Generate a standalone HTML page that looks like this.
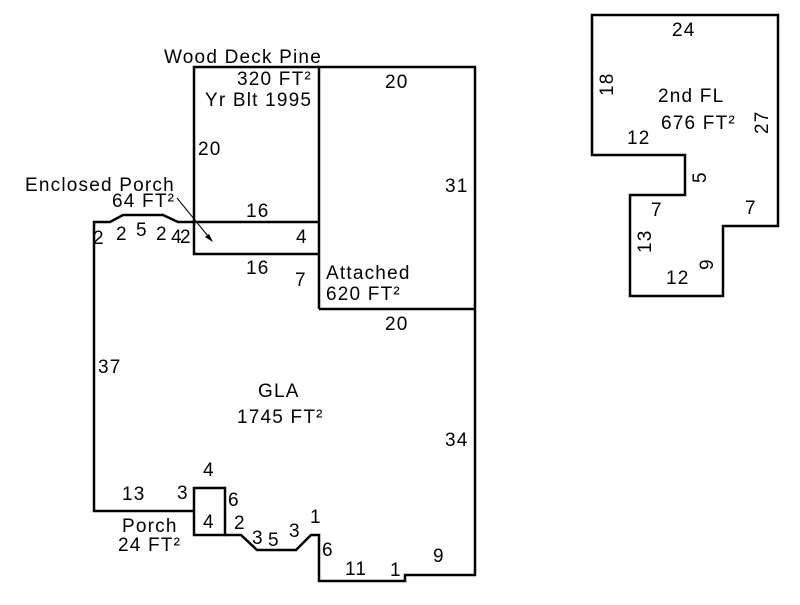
<!DOCTYPE html>
<html><head><meta charset="utf-8"><style>
html,body{margin:0;padding:0;background:#fff}
svg text{font-family:"Liberation Sans",Arial,sans-serif;font-size:19px;letter-spacing:1.2px;fill:#000}
</style></head><body>
<svg width="800" height="600" viewBox="0 0 800 600" xmlns="http://www.w3.org/2000/svg">
<g fill="none" stroke="#000" stroke-width="2.5">
<polyline points="194,222 194,67 475,67 475,575 405,575 405,581 319,581 319,535 311,535 296,550 257,550 241,535 225,535"/>
<rect x="194" y="488" width="31" height="47"/>
<polyline points="194,511 94,511 94,222 110,222 123,215 163,215 178,222 194,222"/>
<line x1="194" y1="222" x2="319" y2="222"/>
<polyline points="194,222 194,254 319,254"/>
<line x1="319" y1="67" x2="319" y2="309"/>
<line x1="319" y1="309" x2="475" y2="309"/>
<polygon points="592,15 778,15 778,226 723,226 723,296 630,296 630,195 685,195 685,155 592,155"/>
</g>
<line x1="177" y1="198" x2="212" y2="241" stroke="#000" stroke-width="1"/>
<polygon points="213,242 205,237 209,234" fill="#000"/>
<text x="164" y="63">Wood Deck Pine</text>
<text x="237" y="85">320 FT²</text>
<text x="205" y="106">Yr Blt 1995</text>
<text x="385" y="88">20</text>
<text x="198" y="155">20</text>
<text x="445" y="192">31</text>
<text x="25" y="191">Enclosed Porch</text>
<text x="112" y="207">64 FT²</text>
<text x="246" y="217">16</text>
<text x="296" y="243">4</text>
<text x="93" y="244">2</text>
<text x="116" y="240">2</text>
<text x="136" y="236">5</text>
<text x="156" y="240">2</text>
<text x="171" y="243">4</text>
<text x="180" y="243">2</text>
<text x="246" y="274">16</text>
<text x="295" y="286">7</text>
<text x="326" y="279">Attached</text>
<text x="326" y="300">620 FT²</text>
<text x="385" y="330">20</text>
<text x="98" y="373">37</text>
<text x="258" y="397">GLA</text>
<text x="237" y="423">1745 FT²</text>
<text x="445" y="446">34</text>
<text x="203" y="476">4</text>
<text x="122" y="500">13</text>
<text x="177" y="499">3</text>
<text x="228" y="506">6</text>
<text x="203" y="528">4</text>
<text x="122" y="532">Porch</text>
<text x="118" y="551">24 FT²</text>
<text x="234" y="529">2</text>
<text x="252" y="544">3</text>
<text x="268" y="546">5</text>
<text x="289" y="537">3</text>
<text x="310" y="523">1</text>
<text x="322" y="556">6</text>
<text x="345" y="575">11</text>
<text x="390" y="576">1</text>
<text x="433" y="562">9</text>
<text x="672" y="36">24</text>
<text x="658" y="102">2nd FL</text>
<text x="661" y="129">676 FT²</text>
<text x="627" y="144">12</text>
<text x="651" y="216">7</text>
<text x="745" y="214">7</text>
<text x="666" y="284">12</text>
<text transform="translate(613,96) rotate(-90)">18</text>
<text transform="translate(768,134) rotate(-90)">27</text>
<text transform="translate(706,183) rotate(-90)">5</text>
<text transform="translate(651,253) rotate(-90)">13</text>
<text transform="translate(713,270) rotate(-90)">9</text>
</svg>
</body></html>
